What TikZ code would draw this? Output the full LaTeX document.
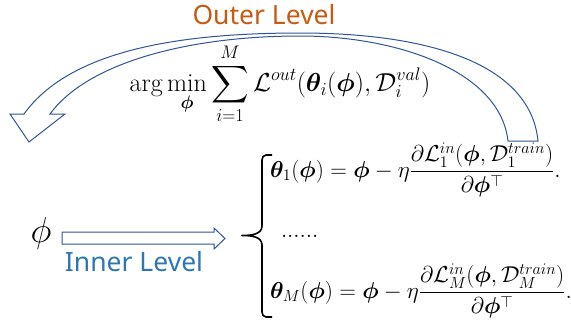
\RequirePackage{fix-cm}
\documentclass[tikz,border=0pt]{standalone}
\usepackage{amsmath,amssymb,bm}
\usepackage{fontspec}
\newfontfamily\levelfont{Noto Sans}
\usetikzlibrary{positioning}
\definecolor{arrowblue}{RGB}{47,85,151}
\definecolor{innerblue}{RGB}{46,117,182}
\definecolor{outerorange}{RGB}{197,90,17}
\newcommand{\bphi}{\bm{\phi}}

\begin{document}
\begin{tikzpicture}[x=1pt,y=-1pt,
    every node/.style={inner sep=0pt,outer sep=0pt},
    eq/.style={font=\fontsize{23}{26}\selectfont},
    levellabel/.style={font=\levelfont\fontsize{26.5}{30}\selectfont},
    blockarrow/.style={draw=arrowblue,line width=1pt,fill=white,line join=miter}]
  \useasboundingbox (0,0) rectangle (571,324);
  % outer loop arrow
  \draw[blockarrow] (508,141) .. controls (500,70) and (395,36) .. (300,36)
      .. controls (190,36) and (88,62) .. (50,114) -- (65,114) -- (29,142)
      -- (10,114) -- (24,114) .. controls (70,50) and (180,33) .. (300,33)
      .. controls (420,33) and (530,60) .. (538,141) -- cycle;
  \node[levellabel,text=outerorange] (outer) at (264,15) {Outer Level};
  \node[eq,font=\fontsize{26}{30}\selectfont] (objective) at (280,84)
    {$\displaystyle \arg\min_{\bphi}\sum_{i=1}^{M}\mathcal{L}^{out}(\bm{\theta}_i(\bphi),\mathcal{D}_i^{val})$};
  % inner level
  \node[font=\fontsize{36}{40}\selectfont] (phi) at (41,233) {$\phi$};
  \draw[blockarrow] (62,232) -- (214,232) -- (214,228) -- (225,238.5)
      -- (214,249) -- (214,244) -- (62,244) -- cycle;
  \node[levellabel,text=innerblue] (inner) at (134,262) {Inner Level};
  % per-task updates
  \draw[line width=1.6pt,line join=round] (272,155) -- (266,155)
      to[out=180,in=90] (262,160) -- (262,226) to[out=-90,in=0] (242,235.5)
      to[out=0,in=90] (262,245) -- (262,312) to[out=-90,in=180] (266,317) -- (272,317);
  \node[eq,anchor=base west] (eqone) at (270,177)
    {$\displaystyle \bm{\theta}_1(\bphi)=\bphi-\eta\frac{\partial\mathcal{L}_1^{in}(\bphi,\mathcal{D}_1^{train})}{\partial\bphi^{\top}}.$};
  \node[eq,anchor=base west] (dots) at (281,237) {$......$};
  \node[eq,anchor=base west] (eqM) at (270,298)
    {$\displaystyle \bm{\theta}_M(\bphi)=\bphi-\eta\frac{\partial\mathcal{L}_M^{in}(\bphi,\mathcal{D}_M^{train})}{\partial\bphi^{\top}}.$};
\end{tikzpicture}
\end{document}
